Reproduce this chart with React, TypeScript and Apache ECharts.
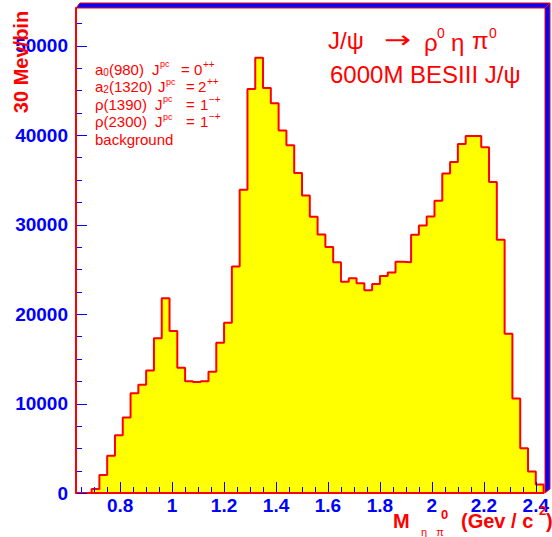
import React, { useEffect, useRef } from "react";
import * as echarts from "echarts";

// 30 MeV bins from 0.63 to 2.43 GeV/c^2
const binStart = 0.63;
const binWidth = 0.03;
const counts = [
  0, 0, 450, 2000, 4150, 6450, 8450, 11150, 12100, 13700,
  17300, 21750, 18100, 13990, 12500, 12400, 12500, 13550, 16780, 19030,
  25300, 33900, 45150, 48650, 45250, 43550, 40500, 38850, 35750, 33250,
  30880, 28900, 27500, 25800, 23600, 24000, 23450, 22650, 23350, 24250,
  24650, 25850, 25800, 28850, 29900, 30900, 32650, 35700, 37000, 39000,
  39900, 39900, 38650, 34750, 28300, 17800, 10550, 5000, 2400, 950,
];

const xMajorTicks = [0.8, 1, 1.2, 1.4, 1.6, 1.8, 2, 2.2, 2.4];
const xMinorTicks = [
  0.65, 0.7, 0.75, 0.85, 0.9, 0.95, 1.05, 1.1, 1.15, 1.25, 1.3, 1.35,
  1.45, 1.5, 1.55, 1.65, 1.7, 1.75, 1.85, 1.9, 1.95, 2.05, 2.1, 2.15,
  2.25, 2.3, 2.35,
];
const yMajorTicks = [0, 10000, 20000, 30000, 40000, 50000];
const yMinorTicks = [
  2500, 5000, 7500, 12500, 15000, 17500, 22500, 25000, 27500, 32500,
  35000, 37500, 42500, 45000, 47500, 52500,
];

// legend: [name (rich), quantum-number value, value superscript]
const legendNames = [
  "{t|a}{sub|0}{t|(980)}",
  "{t|a}{sub|2}{t|(1320)}",
  "{t|ρ(1390)}",
  "{t|ρ(2300)}",
];
const legendJ = ["0", "2", "1", "1"];
const legendJsup = ["++", "++", "−+", "−+"];
const legendExtra = "background";

const RED = "#ff0000";
const BLUE = "#0000ff";
const YELLOW = "#ffff00";
const FONT = '"Liberation Sans", Arial, sans-serif';

const MAJOR_LEN = 10;
const MINOR_LEN = 5;

export default function App() {
  const ref = useRef<HTMLDivElement>(null);

  useEffect(() => {
    document.body.style.margin = "0";
    document.body.style.overflow = "hidden";
    if (!ref.current) return;
    const chart = echarts.init(ref.current, null, { renderer: "svg" });

    const xMin = binStart;
    const xMax = binStart + counts.length * binWidth;
    const yMax = 54200;
    const data: number[][] = counts.map((v, i) => [binStart + i * binWidth, v]);
    data.push([xMax, counts[counts.length - 1]]);
    data.push([xMax, 0]);

    const legendRich = {
      t: { fontSize: 15, fontFamily: FONT, fill: RED, lineHeight: 16, verticalAlign: "middle" },
      sub: { fontSize: 10, fontFamily: FONT, fill: RED, lineHeight: 10, verticalAlign: "bottom" },
    };

    const txt = (text: string, x: number, y: number, font: string, extra: any = {}) => ({
      type: "text",
      x,
      y,
      ...extra,
      style: { text, fill: RED, font, textAlign: "left", textVerticalAlign: "middle" },
      z: 60,
    });

    const graphics: any[] = [
      // frame bevel (top and right)
      {
        type: "polygon",
        shape: { points: [[76, 8], [80, 3], [550, 3], [545, 8]] },
        style: { fill: BLUE, stroke: RED, lineWidth: 1 },
        z: 100,
      },
      {
        type: "polygon",
        shape: { points: [[545, 8], [550, 3], [550, 489], [545, 493]] },
        style: { fill: BLUE, stroke: RED, lineWidth: 1 },
        z: 100,
      },
      // y axis title
      {
        type: "text",
        x: 21,
        y: 62,
        rotation: Math.PI / 2,
        style: {
          text: "30 Mev/bin",
          fill: RED,
          font: `bold 20px ${FONT}`,
          textAlign: "center",
          textVerticalAlign: "middle",
        },
        z: 50,
      },
      // x axis title
      txt("M", 393, 521, `bold 20px ${FONT}`),
      txt("η   π", 421, 532, `11px ${FONT}`),
      txt("0", 441, 514, `bold 13px ${FONT}`),
      txt("(Gev / c", 461, 521, `bold 20px ${FONT}`),
      txt("2", 539, 510, `bold 13px ${FONT}`),
      txt(")", 546, 521, `bold 20px ${FONT}`),
      // title line 1
      txt("J/ψ", 328, 40, `24px ${FONT}`),
      txt("→", 384, 40, `24px "DejaVu Sans"`, { scaleX: 1.35 }),
      txt("ρ", 424, 42, `24px ${FONT}`),
      txt("0", 437, 33, `14px ${FONT}`),
      txt("η", 451, 42, `24px ${FONT}`),
      txt("π", 472, 40, `24px ${FONT}`),
      txt("0", 489, 33, `14px ${FONT}`),
      // title line 2
      txt("6000M BESIII J/ψ", 330, 74, `24px ${FONT}`),
    ];

    const jX = [152, 158, 155, 155];
    const eqX = [181, 186, 186, 186];
    const vX = [194, 198, 200, 200];
    legendNames.forEach((s, i) => {
      const y = 69 + i * 17.5;
      graphics.push({
        type: "text",
        x: 95,
        y,
        style: { text: s, rich: legendRich, textAlign: "left", textVerticalAlign: "middle" },
        z: 60,
      });
      graphics.push(txt("J", jX[i], y, `15px ${FONT}`));
      graphics.push(txt("pc", jX[i] + 8, y - 5, `9px ${FONT}`));
      graphics.push(txt("=", eqX[i], y, `15px ${FONT}`));
      graphics.push(txt(legendJ[i], vX[i], y, `15px ${FONT}`));
      graphics.push(txt(legendJsup[i], vX[i] + 9, y - 5, `10px ${FONT}`));
    });
    graphics.push(txt(legendExtra, 95, 69 + 4 * 17.5, `15px ${FONT}`));

    const axisCommon = {
      type: "value",
      splitLine: { show: false },
      axisTick: { show: false },
    };

    chart.setOption({
      animation: false,
      backgroundColor: "#ffffff",
      grid: { left: 76, right: 7, top: 8, bottom: 44, containLabel: false },
      xAxis: {
        ...axisCommon,
        min: xMin,
        max: xMax,
        position: "bottom",
        z: 10,
        axisLine: { show: true, onZero: false, lineStyle: { color: RED, width: 2 } },
        axisLabel: {
          show: true,
          customValues: xMajorTicks,
          color: BLUE,
          fontSize: 19,
          fontWeight: "bold",
          fontFamily: FONT,
          margin: 3,
          formatter: (v: number) => String(v),
        },
      },
      yAxis: {
        ...axisCommon,
        min: 0,
        max: yMax,
        position: "left",
        z: 10,
        axisLine: { show: true, onZero: false, lineStyle: { color: RED, width: 2 } },
        axisLabel: {
          show: true,
          customValues: yMajorTicks,
          color: BLUE,
          fontSize: 19,
          fontWeight: "bold",
          fontFamily: FONT,
          margin: 8,
          formatter: (v: number) => String(v),
        },
      },
      series: [
        {
          type: "line",
          step: "end",
          data,
          symbol: "none",
          lineStyle: { color: RED, width: 2 },
          areaStyle: { color: YELLOW, opacity: 1 },
          z: 2,
        },
      ],
      graphic: graphics,
    });

    // axis ticks (inside), positioned through the chart's own scales
    const tickLines: any[] = [];
    const addX = (v: number, len: number) => {
      const p = chart.convertToPixel({ gridIndex: 0 }, [v, 0]) as number[];
      if (!p || !isFinite(p[0])) return;
      const x = Math.round(p[0]) + 0.5;
      const y = Math.round(p[1]) - 1;
      tickLines.push({
        type: "line",
        shape: { x1: x, y1: y, x2: x, y2: y - len },
        style: { stroke: BLUE, lineWidth: 1 },
        z: 90,
      });
    };
    const addY = (v: number, len: number) => {
      const p = chart.convertToPixel({ gridIndex: 0 }, [xMin, v]) as number[];
      if (!p || !isFinite(p[1])) return;
      const x = Math.round(p[0]) + 1;
      const y = Math.round(p[1]) + 0.5;
      tickLines.push({
        type: "line",
        shape: { x1: x, y1: y, x2: x + len, y2: y },
        style: { stroke: BLUE, lineWidth: 1 },
        z: 90,
      });
    };
    xMajorTicks.forEach((v) => addX(v, MAJOR_LEN));
    xMinorTicks.forEach((v) => addX(v, MINOR_LEN));
    yMajorTicks.forEach((v) => addY(v, MAJOR_LEN));
    yMinorTicks.forEach((v) => addY(v, MINOR_LEN));

    chart.setOption({ graphic: [...graphics, ...tickLines] });

    return () => chart.dispose();
  }, []);

  return <div ref={ref} style={{ width: 552, height: 537 }} />;
}
